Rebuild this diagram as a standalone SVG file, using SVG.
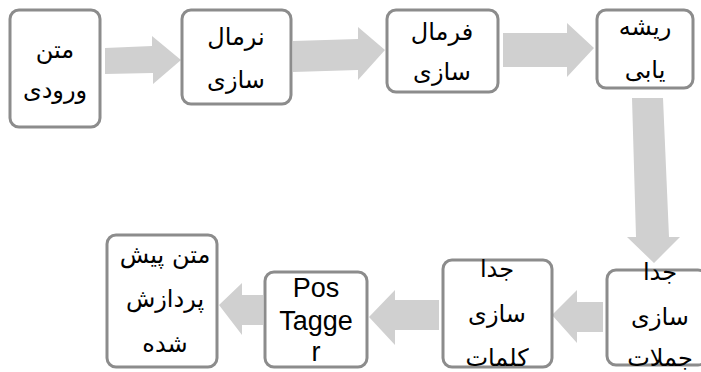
<svg xmlns="http://www.w3.org/2000/svg" width="701" height="372" viewBox="0 0 701 372">
<style>
.box{fill:#ffffff;stroke:#8c8c8c;stroke-width:3}
.arr{fill:#d0d0d0;stroke:none}
.fa{font-family:'DejaVu Sans','Noto Sans',sans-serif;font-size:24px;fill:#000;text-anchor:middle;direction:rtl}
.en{font-family:'Liberation Sans','Open Sans',sans-serif;font-size:27px;fill:#000;text-anchor:middle}
</style>
<rect width="701" height="372" fill="#ffffff"/>
<g id="connectors">
<polygon class="arr" points="105,48 152,46 152,36 181,60 153,84 153,73 105,74"/>
<polygon class="arr" points="293,41 358,39 358,27 385,50 358,80 358,70 293,72"/>
<polygon class="arr" points="503,33 567,33 567,23 594,48 567,77 567,67 503,67"/>
<polygon class="arr" points="632,98 663,98 669,237 680,237 654,263 627,237 636,237"/>
<polygon class="arr" points="603,302 577,302 577,290 552,315 577,343 577,332 603,332"/>
<polygon class="arr" points="439,300 395,300 395,290 369,317 395,345 395,330 439,330"/>
<polygon class="arr" points="263,295 242,295 242,283 219,305 242,335 242,325 263,325"/>
</g>
<g id="n1"><rect class="box" x="10" y="10" width="90" height="117" rx="9"/>
<text class="fa" x="55" y="58">متن</text><text class="fa" x="55" y="98">ورودی</text></g>
<g id="n2"><rect class="box" x="182" y="10" width="109" height="94" rx="9"/>
<text class="fa" x="236" y="45">نرمال</text><text class="fa" x="236" y="88">سازی</text></g>
<g id="n3"><rect class="box" x="387" y="10" width="111" height="82" rx="9"/>
<text class="fa" x="442" y="40">فرمال</text><text class="fa" x="442" y="80">سازی</text></g>
<g id="n4"><rect class="box" x="597" y="10" width="96" height="78" rx="9"/>
<text class="fa" x="645" y="35">ریشه</text><text class="fa" x="645" y="78">یابی</text></g>
<g id="n5"><rect class="box" x="607" y="270" width="100" height="95" rx="9"/>
<text class="fa" x="660" y="280">جدا</text><text class="fa" x="660" y="325">سازی</text><text class="fa" x="660" y="366">جملات</text></g>
<g id="n6"><rect class="box" x="443" y="260" width="109" height="107" rx="9"/>
<text class="fa" x="497" y="277">جدا</text><text class="fa" x="497" y="322">سازی</text><text class="fa" x="497" y="366">کلمات</text></g>
<g id="n7"><rect class="box" x="265" y="272" width="102" height="95" rx="9"/>
<text class="en" x="316" y="297">Pos</text><text class="en" x="316" y="330">Tagge</text><text class="en" x="316" y="361">r</text></g>
<g id="n8"><rect class="box" x="107" y="235" width="110" height="132" rx="9"/>
<text class="fa" x="165" y="263">متن پیش</text><text class="fa" x="165" y="307">پردازش</text><text class="fa" x="165" y="352">شده</text></g>
</svg>
